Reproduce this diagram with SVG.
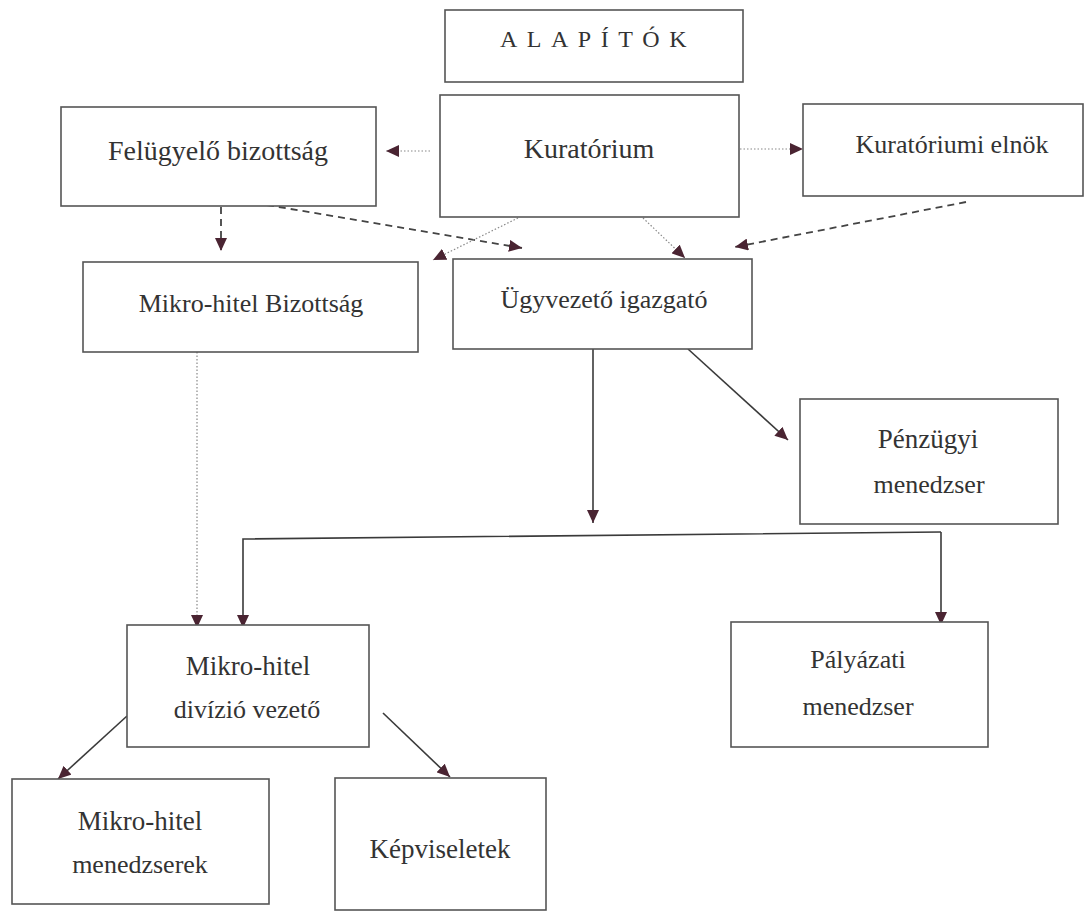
<svg xmlns="http://www.w3.org/2000/svg" width="1088" height="911" viewBox="0 0 1088 911">
<style>
.box{fill:#fff;stroke:#555;stroke-width:1.6}
.t{font-family:"Liberation Serif","Times New Roman",serif;font-size:26px;fill:#333;text-anchor:middle}
.solid{fill:none;stroke:#3a3a3a;stroke-width:1.6}
.dash{fill:none;stroke:#444;stroke-width:1.8;stroke-dasharray:7 5}
.dot{fill:none;stroke:#888;stroke-width:1.2;stroke-dasharray:1.5 2}
</style>
<defs>
<marker id="ah" markerUnits="userSpaceOnUse" markerWidth="14" markerHeight="12" refX="13" refY="6" orient="auto">
<path d="M0,0 L13,6 L0,12 Z" fill="#4a2432"/>
</marker>
</defs>
<rect width="1088" height="911" fill="#fff"/>
<g id="connectors">
<path class="dot" d="M430,151 L386,151" marker-end="url(#ah)"/>
<path class="dot" d="M733,149 L803,149" marker-end="url(#ah)"/>
<path class="dash" d="M221,207 L221,251" marker-end="url(#ah)"/>
<path class="dash" d="M267,205 L522,248" marker-end="url(#ah)"/>
<path class="dot" d="M518,218 L433,260" marker-end="url(#ah)"/>
<path class="dot" d="M643,218 L685,258" marker-end="url(#ah)"/>
<path class="dash" d="M966,202 L735,247" marker-end="url(#ah)"/>
<path class="solid" d="M593,349 L593,523" marker-end="url(#ah)"/>
<path class="solid" d="M688,349 L788,440" marker-end="url(#ah)"/>
<path class="solid" d="M941,532 L243,539 L243,628" marker-end="url(#ah)"/>
<path class="solid" d="M941,532 L941,625" marker-end="url(#ah)"/>
<path class="dot" d="M197,352 L197,628" marker-end="url(#ah)"/>
<path class="solid" d="M127,716 L58,779" marker-end="url(#ah)"/>
<path class="solid" d="M383,713 L450,777" marker-end="url(#ah)"/>
</g>
<g id="alapitok">
<rect class="box" x="445" y="10" width="298" height="72"/>
<text x="500" y="47" style="font-family:'Liberation Serif','Times New Roman',serif;font-size:24px;fill:#333;letter-spacing:9.5px">ALAPÍTÓK</text>
</g>
<g id="kuratorium">
<rect class="box" x="440" y="95" width="299" height="122"/>
<text class="t" x="589" y="158" style="font-size:28px">Kuratórium</text>
</g>
<g id="felugyelo">
<rect class="box" x="61" y="107" width="315" height="99"/>
<text class="t" x="218" y="160" style="font-size:28px">Felügyelő bizottság</text>
</g>
<g id="elnok">
<rect class="box" x="803" y="104" width="280" height="92"/>
<text class="t" x="952" y="153">Kuratóriumi elnök</text>
</g>
<g id="mikrohitel-bizottsag">
<rect class="box" x="83" y="262" width="335" height="90"/>
<text class="t" x="251" y="312">Mikro-hitel Bizottság</text>
</g>
<g id="ugyvezeto">
<rect class="box" x="453" y="259" width="299" height="90"/>
<text class="t" x="604" y="308">Ügyvezető igazgató</text>
</g>
<g id="penzugyi">
<rect class="box" x="800" y="399" width="258" height="125"/>
<text class="t" x="928" y="448" style="font-size:27px">Pénzügyi</text>
<text class="t" x="929" y="493">menedzser</text>
</g>
<g id="palyazati">
<rect class="box" x="731" y="622" width="257" height="125"/>
<text class="t" x="858" y="668">Pályázati</text>
<text class="t" x="858" y="715">menedzser</text>
</g>
<g id="divizio">
<rect class="box" x="127" y="625" width="242" height="122"/>
<text class="t" x="248" y="675" style="font-size:27px">Mikro-hitel</text>
<text class="t" x="247" y="718">divízió vezető</text>
</g>
<g id="menedzserek">
<rect class="box" x="12" y="779" width="257" height="125"/>
<text class="t" x="140" y="830" style="font-size:27px">Mikro-hitel</text>
<text class="t" x="140" y="873">menedzserek</text>
</g>
<g id="kepviseletek">
<rect class="box" x="335" y="778" width="211" height="132"/>
<text class="t" x="440" y="858" style="font-size:27px">Képviseletek</text>
</g>
</svg>
